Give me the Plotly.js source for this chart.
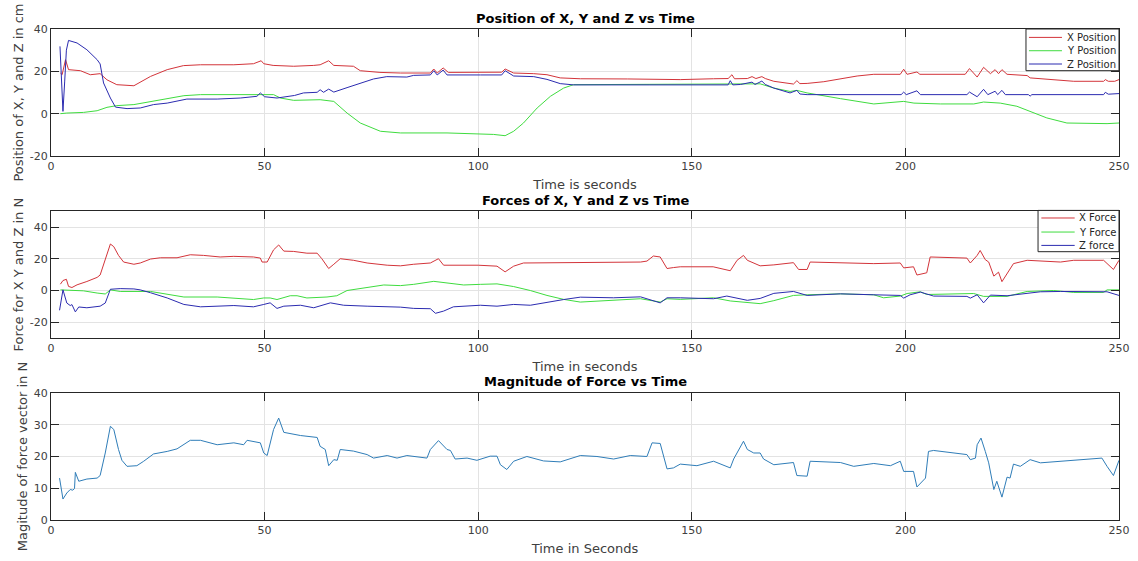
<!DOCTYPE html>
<html>
<head>
<meta charset="utf-8">
<script src="https://cdn.plot.ly/plotly-3.0.1.min.js"></script>
<style>html,body{margin:0;padding:0;background:#fff;}#chart{width:1138px;height:561px;}</style>
</head>
<body>
<div id="chart"></div>
<script>
// ---------- Position (cm) ----------
const posXt = [2.2,2.6,3.4,4.1,6.9,9.2,11.5,13.1,15.4,19.4,23.3,27.2,31.0,35.0,42.8,47.4,49.2,49.8,52.0,56.8,61.5,63.0,65.0,66.2,70.8,72.4,77.0,81.8,88.8,89.6,90.4,91.8,93.0,100.0,105.5,106.3,108.3,113.0,116.1,119.2,123.9,135.0,147.3,155.1,158.5,159.4,160.0,163.0,164.1,165.0,166.4,167.2,169.2,173.8,174.6,175.3,177.0,180.9,184.8,188.7,192.6,198.8,199.6,200.4,202.7,203.4,214.0,215.0,216.8,218.3,219.9,221.0,221.8,222.6,223.8,228.5,229.2,231.6,239.4,246.4,246.8,247.5,249.0,250.0];
const posX  = [19.2,18.4,25.5,20.8,20.3,18.4,18.9,16.0,13.7,13.2,17.6,20.8,22.7,23.1,23.1,23.6,25.0,23.6,22.8,22.4,22.8,23.1,25.0,22.8,22.4,20.3,19.5,19.2,19.2,21.1,19.2,21.6,19.5,19.6,19.6,21.1,19.2,18.9,18.4,16.9,16.5,16.4,16.1,16.5,16.6,18.4,16.5,16.6,17.5,16.6,17.5,16.6,15.3,14.0,15.6,14.2,14.3,15.1,16.4,17.8,18.6,18.6,21.0,18.6,19.7,18.6,18.6,21.3,17.3,21.9,18.9,20.8,18.9,20.8,18.6,18.0,16.9,16.5,15.3,15.3,16.1,15.3,15.3,16.1];

const posYt = [2.2,3.7,7.6,10.8,13.1,15.4,19.4,23.3,27.2,31.1,35.0,42.8,46.7,52.1,53.7,56.8,63.0,66.2,69.3,72.4,77.1,81.8,92.7,100.5,103.6,106.3,108.3,110.6,113.8,116.9,120.0,122.3,140.0,150.0,161.4,166.0,169.2,173.0,174.6,177.0,184.8,192.6,199.6,202.0,208.2,216.0,218.3,222.2,226.1,229.2,233.1,237.8,247.2,250.0];
const posY  = [0.0,0.3,0.6,1.4,3.0,3.8,4.3,5.8,7.1,8.5,9.0,9.0,9.3,9.0,7.4,6.3,6.6,5.8,0.3,-4.4,-8.3,-9.1,-9.1,-9.4,-9.8,-10.4,-8.3,-4.4,2.7,8.2,12.1,13.7,13.9,14.0,14.1,14.1,12.1,10.5,11.0,9.8,7.1,4.6,5.8,5.0,4.6,4.6,5.5,5.0,3.5,1.1,-2.0,-4.4,-4.7,-4.4];

const posZt = [2.1,2.3,2.6,2.8,3.2,3.6,4.1,6.1,8.4,10.8,11.5,12.3,13.9,15.1,17.8,20.9,24.0,27.2,31.8,38.9,44.3,48.2,49.0,50.0,52.9,54.5,57.0,59.1,62.3,63.0,63.8,65.0,66.2,69.3,72.4,75.5,78.6,83.3,84.9,88.8,89.6,90.4,91.8,92.7,100.5,105.5,106.3,108.3,113.0,116.1,119.2,122.3,140.0,158.5,159.0,159.6,161.4,164.1,164.8,166.4,167.2,169.2,173.0,174.6,175.3,177.0,199.0,199.6,200.2,202.7,203.5,214.4,215.0,216.8,218.3,219.3,221.0,221.6,222.6,223.4,228.8,229.2,229.6,246.4,246.8,247.5,250.0];
const posZ  = [31.8,22.0,8.0,1.1,15.0,30.0,34.6,33.4,30.2,25.5,23.5,14.5,7.4,3.1,2.4,2.7,4.3,5.0,6.9,6.9,7.4,8.2,9.8,8.0,7.4,8.0,8.6,9.8,10.1,11.3,10.1,11.6,10.2,12.3,14.5,16.4,17.5,17.3,18.1,18.3,20.3,18.3,20.6,18.3,18.3,18.3,20.3,17.8,17.5,16.2,14.2,13.6,13.6,13.6,15.6,13.6,13.8,14.9,13.8,15.4,13.8,12.1,9.8,11.0,9.3,9.0,9.0,10.2,9.0,10.8,9.0,9.0,10.2,8.0,11.5,9.0,10.6,9.0,11.0,9.0,9.0,8.3,9.0,9.0,10.1,9.2,9.5];

// ---------- Forces (N) ----------
const fXt = [2.2,2.8,3.6,4.1,4.9,6.1,8.4,10.8,11.5,12.7,13.9,14.7,15.8,17.0,19.4,20.9,23.3,25.6,29.5,32.6,35.7,39.6,42.8,47.4,49.0,49.4,50.6,52.1,53.3,54.5,56.8,59.9,62.3,63.4,65.0,66.2,67.7,70.8,74.0,78.7,81.8,84.9,88.8,90.7,91.9,100.0,104.4,106.3,108.3,110.6,116.0,125.0,138.0,139.5,141.0,142.6,144.2,145.7,147.3,155.0,159.0,160.6,162.1,163.0,166.0,169.2,173.8,175.0,177.0,177.7,184.8,192.6,198.8,199.6,201.9,202.7,205.0,205.8,214.4,215.2,216.8,217.5,218.7,219.5,220.7,221.8,222.6,223.8,225.3,228.5,236.3,239.4,246.4,248.7,250.0];
const fX  = [4.0,6.3,7.1,2.6,1.9,3.6,5.7,8.3,9.8,20.1,29.4,27.7,22.2,18.0,16.6,17.4,19.9,20.7,20.7,22.6,22.2,21.2,21.6,21.2,20.5,18.0,18.0,25.7,28.8,24.9,24.7,23.6,23.6,20.1,13.9,16.6,20.1,19.1,17.4,16.0,15.6,16.6,17.4,20.1,16.0,16.0,15.4,11.8,15.4,17.4,17.6,17.8,18.0,18.6,21.8,21.2,13.9,14.5,15.0,15.0,12.5,19.1,22.2,19.1,15.6,16.2,17.6,13.3,13.3,18.0,17.4,17.0,17.4,14.3,15.0,9.8,11.2,21.2,20.5,17.4,22.2,25.3,19.5,18.0,9.1,11.6,5.6,10.8,17.0,19.1,18.0,19.1,19.1,13.3,19.1];

const fYt = [2.2,7.6,10.8,12.7,13.9,16.2,23.3,27.2,31.1,38.9,44.3,47.4,49.8,51.3,52.9,54.5,56.0,57.6,59.9,64.6,66.9,69.3,74.0,77.9,81.8,84.9,89.6,92.7,96.6,100.5,104.4,108.3,112.2,116.1,120.0,123.9,131.7,138.0,142.6,144.2,147.3,155.1,159.0,163.0,166.0,169.2,173.8,177.0,184.8,192.6,194.9,198.8,200.4,203.5,205.0,216.0,218.3,223.8,228.5,234.7,239.4,246.4,247.2,250.0];
const fY  = [0.4,-0.2,-1.6,-2.2,0.4,-0.6,-0.6,-2.2,-4.1,-4.1,-5.1,-5.7,-4.7,-4.7,-5.7,-4.7,-3.3,-3.3,-4.7,-4.1,-3.3,0.0,1.9,3.5,3.1,3.9,5.8,4.6,3.5,3.9,4.2,2.5,0.0,-3.1,-5.6,-7.3,-6.2,-5.2,-7.3,-5.2,-5.6,-4.6,-6.6,-7.7,-8.3,-6.4,-3.1,-2.7,-2.1,-2.7,-4.6,-3.5,-1.9,-0.8,-2.5,-1.9,-3.7,-3.7,-0.6,0.0,-1.2,-1.2,0.4,0.4];

const fZt = [2.0,2.4,2.8,3.7,4.5,4.9,5.7,6.5,8.4,11.5,12.7,13.9,16.2,19.4,20.9,23.3,27.2,31.1,35.0,42.8,47.4,49.8,51.3,52.9,54.5,58.4,61.5,65.4,68.5,74.0,81.8,84.9,88.8,90.0,91.9,94.2,100.5,104.4,108.3,112.2,116.1,120.0,123.9,131.7,138.0,142.6,144.2,147.3,155.1,158.2,163.0,166.0,169.2,173.8,177.0,184.8,192.6,198.8,199.6,201.1,203.5,206.6,214.4,215.2,216.8,218.3,219.9,223.8,231.6,236.3,247.2,250.0];
const fZ  = [-12.5,-5.8,0.4,-7.9,-9.5,-8.9,-13.5,-10.4,-10.9,-9.9,-7.9,0.8,1.2,1.0,0.4,-1.4,-4.7,-8.8,-10.3,-9.5,-10.3,-8.8,-7.8,-11.3,-9.9,-9.3,-10.9,-7.8,-9.3,-9.9,-10.5,-11.3,-11.5,-14.4,-13.0,-10.3,-9.3,-9.9,-8.8,-9.3,-7.3,-5.7,-4.2,-4.6,-4.0,-7.8,-4.6,-4.6,-5.2,-3.5,-6.2,-5.0,-1.8,-0.6,-3.1,-2.1,-2.7,-3.1,-4.8,-2.7,-1.0,-3.5,-3.7,-4.8,-2.7,-7.8,-2.9,-3.3,-0.8,-0.6,-0.8,-3.1];

// ---------- Magnitude (N) ----------
const magT = [2.0,2.4,2.8,3.7,4.5,5.1,5.5,5.7,6.5,8.4,10.8,11.5,12.7,13.9,14.7,15.8,16.6,17.8,20.1,21.7,24.0,27.2,29.5,32.6,35.0,38.9,42.8,45.1,45.9,49.0,49.8,50.6,52.1,53.3,54.5,58.4,62.3,63.0,64.2,65.0,66.2,67.0,67.7,70.8,74.0,75.5,78.7,81.0,83.3,88.0,88.8,90.7,92.7,93.5,94.6,97.4,99.7,102.8,104.4,105.2,106.7,108.3,111.4,115.3,119.2,123.9,127.8,131.7,135.6,139.5,140.7,142.6,144.2,145.7,147.3,151.2,155.1,159.0,159.8,162.1,163.0,164.5,166.0,166.8,169.2,173.8,174.6,177.0,177.7,184.8,187.9,192.6,196.5,198.8,199.6,201.9,202.7,204.7,205.4,206.6,214.4,215.2,216.4,216.8,217.7,218.7,219.5,220.7,221.4,222.6,223.8,224.5,225.3,226.9,229.2,231.6,239.4,246.0,247.2,248.7,250.0];
const mag  = [13.2,10.1,6.6,8.5,9.6,9.4,9.9,15.0,12.2,12.9,13.2,14.0,21.1,29.5,28.5,22.2,18.8,16.9,17.1,18.5,20.8,21.6,22.4,25.1,25.1,23.7,24.3,23.7,25.1,24.3,21.1,20.3,28.5,32.1,27.6,26.6,26.0,23.2,22.2,17.1,19.0,18.8,22.2,21.7,20.6,19.5,20.3,19.5,20.3,19.5,22.2,25.0,22.2,21.9,19.2,19.5,18.8,20.1,20.1,17.4,15.9,18.5,20.0,18.6,18.3,20.3,20.0,19.2,20.3,20.0,24.3,24.1,16.1,16.4,17.6,17.1,18.5,16.4,19.2,24.8,22.2,21.1,21.1,19.2,17.4,18.1,14.0,13.8,18.5,18.1,16.9,17.8,17.1,18.5,15.3,15.3,10.4,13.2,21.6,21.9,20.6,19.0,19.5,23.7,25.8,21.6,18.0,9.6,12.2,7.2,13.5,13.2,17.6,16.9,19.0,18.0,18.8,19.5,16.9,14.0,18.8];

// ---------- Labels ----------
const seriesPos = ['X Position','Y Position','Z Position'];
const seriesForce = ['X Force','Y Force','Z force'];
const xTicks = [0,50,100,150,200,250];

const RED = '#d3343a', GREEN = '#3fdc3f', BLUE = '#2b2bb0', MAGC = '#2f7db8';
const COLORS = [RED, GREEN, BLUE];
const FONT = 'DejaVu Sans, Liberation Sans, sans-serif';

const traces = [
  {x: posXt, y: posX, name: seriesPos[0], line:{color:RED,width:1}, xaxis:'x', yaxis:'y'},
  {x: posYt, y: posY, name: seriesPos[1], line:{color:GREEN,width:1}, xaxis:'x', yaxis:'y'},
  {x: posZt, y: posZ, name: seriesPos[2], line:{color:BLUE,width:1}, xaxis:'x', yaxis:'y'},
  {x: fXt, y: fX, name: seriesForce[0], line:{color:RED,width:1}, xaxis:'x2', yaxis:'y2'},
  {x: fYt, y: fY, name: seriesForce[1], line:{color:GREEN,width:1}, xaxis:'x2', yaxis:'y2'},
  {x: fZt, y: fZ, name: seriesForce[2], line:{color:BLUE,width:1}, xaxis:'x2', yaxis:'y2'},
  {x: magT, y: mag, name: 'Magnitude', line:{color:MAGC,width:1}, xaxis:'x3', yaxis:'y3'}
].map(t => Object.assign({type:'scatter', mode:'lines', hoverinfo:'x+y', showlegend:false}, t));

function xax(anchor, title){
  return {
    anchor: anchor, domain:[0,1], range:[0,250], tickvals:xTicks, ticktext:xTicks.map(String),
    showgrid:true, gridcolor:'#e3e3e3', gridwidth:1, zeroline:false,
    showline:true, linecolor:'#262626', linewidth:1, mirror:'ticks',
    ticks:'inside', ticklen:8, tickcolor:'#262626', tickwidth:1,
    tickfont:{family:FONT, size:11, color:'#404040'},
    title:{text:title, font:{family:FONT, size:13, color:'#404040'}, standoff:7}
  };
}
function yax(anchor, domain, range, tickvals, title){
  return {
    anchor: anchor, domain:domain, range:range, tickvals:tickvals, ticktext:tickvals.map(String),
    showgrid:true, gridcolor:'#e3e3e3', gridwidth:1, zeroline:false,
    showline:true, linecolor:'#262626', linewidth:1, mirror:'ticks',
    ticks:'inside', ticklen:8, tickcolor:'#262626', tickwidth:1,
    tickfont:{family:FONT, size:11, color:'#404040'},
    title:{text:title, font:{family:FONT, size:13, color:'#404040'}, standoff:3}
  };
}

const D1 = [0.7413, 1], D2 = [0.3707, 0.6285], D3 = [0, 0.2587];

function titleAnn(xref, yref, text){
  return {xref:xref+' domain', yref:yref+' domain', x:0.5, y:1, xanchor:'center', yanchor:'middle',
          yshift:11, showarrow:false, text:'<b>'+text+'</b>', font:{family:FONT, size:13, color:'#000'}};
}

// Compact boxed legend (MATLAB style) drawn inside a subplot's domain
function legendParts(xref, yref, names, box, lineX, textX, rowsY){
  const shapes = [{type:'rect', xref:xref+' domain', yref:yref+' domain',
    x0:box[0], x1:box[1], y0:box[2], y1:box[3], fillcolor:'#ffffff', line:{color:'#262626', width:1}, layer:'above'}];
  const anns = [];
  names.forEach((n, i) => {
    shapes.push({type:'line', xref:xref+' domain', yref:yref+' domain', x0:lineX[0], x1:lineX[1],
      y0:rowsY[i], y1:rowsY[i], line:{color:COLORS[i], width:1}, layer:'above'});
    anns.push({xref:xref+' domain', yref:yref+' domain', x:textX, y:rowsY[i], xanchor:'left', yanchor:'middle',
      showarrow:false, text:n, font:{family:FONT, size:10, color:'#262626'}});
  });
  return {shapes, anns};
}
const leg1 = legendParts('x','y', seriesPos, [0.9129,1,0.6717,1], [0.9157,0.9466], 0.9495, [0.9339,0.829,0.7244]);
const leg2 = legendParts('x2','y2', seriesForce, [0.9242,1,0.6817,1.008], [0.9273,0.9585], 0.9605, [0.948,0.837,0.7314]);

const layout = {
  width:1138, height:561,
  margin:{l:51, r:19, t:29, b:41},
  paper_bgcolor:'#ffffff', plot_bgcolor:'#ffffff',
  font:{family:FONT, size:11, color:'#404040'},
  xaxis: xax('y', 'Time is seconds'),
  yaxis: yax('x', D1, [-20,40], [-20,0,20,40], 'Position of X, Y and Z in cm'),
  xaxis2: xax('y2', 'Time in seconds'),
  yaxis2: yax('x2', D2, [-30,50], [-20,0,20,40], 'Force for X Y and Z in N'),
  xaxis3: xax('y3', 'Time in Seconds'),
  yaxis3: yax('x3', D3, [0,40], [0,10,20,30,40], 'Magitude of force vector in N'),
  showlegend:false,
  shapes: leg1.shapes.concat(leg2.shapes),
  annotations:[
    titleAnn('x','y','Position of X, Y and Z vs Time'),
    titleAnn('x2','y2','Forces of X, Y and Z vs Time'),
    titleAnn('x3','y3','Magnitude of Force vs Time')
  ].concat(leg1.anns, leg2.anns)
};

Plotly.newPlot('chart', traces, layout, {displayModeBar:false, staticPlot:true});
</script>
</body>
</html>
